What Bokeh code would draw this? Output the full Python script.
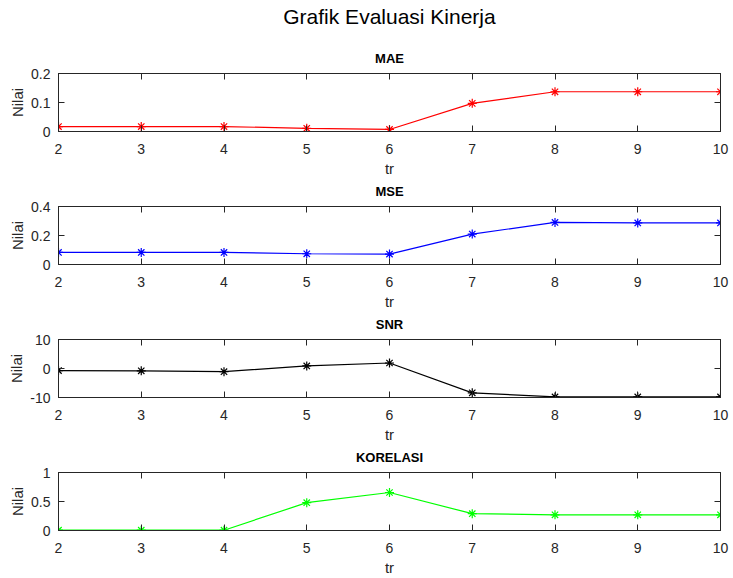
from bokeh.plotting import figure
from bokeh.models import (Range1d, FixedTicker, LinearAxis, NumeralTickFormatter,
                          CustomJSTickFormatter, ColumnDataSource)
from bokeh.layouts import column
from bokeh.embed import file_html
from bokeh.resources import INLINE

# ---- data ----
tr = [2, 3, 4, 5, 6, 7, 8, 9, 10]
mae = [0.017, 0.017, 0.017, 0.011, 0.007, 0.097, 0.137, 0.137, 0.137]
mse = [0.083, 0.083, 0.083, 0.074, 0.072, 0.210, 0.290, 0.287, 0.287]
snr = [-0.7, -0.8, -1.1, 0.9, 1.9, -8.4, -9.8, -9.8, -9.8]
korelasi = [0.005, 0.005, 0.005, 0.48, 0.655, 0.29, 0.27, 0.27, 0.27]

main_title = "Grafik Evaluasi Kinerja"
panel_titles = ["MAE", "MSE", "SNR", "KORELASI"]
series = [mae, mse, snr, korelasi]
colors = ["#ff0000", "#0000ff", "#000000", "#00ff00"]
y_ranges = [(0, 0.2), (0, 0.4), (-10, 10), (0, 1)]
y_ticks = [[0, 0.1, 0.2], [0, 0.2, 0.4], [-10, 0, 10], [0, 0.5, 1]]
x_label = "tr"
y_label = "Nilai"

# ---- layout (top border, frame height, bottom border) ----
specs = [(73, 58, 48), (27, 58, 48), (27, 58, 48), (27, 58, 48)]

FONT = "Liberation Sans"
AX = "#262626"


def blank_axis(ticks, ticks_visible=True):
    ax = LinearAxis(ticker=FixedTicker(ticks=ticks),
                    formatter=CustomJSTickFormatter(code="return ''"))
    ax.major_tick_in = 6 if ticks_visible else 0
    ax.major_tick_out = 0
    ax.minor_tick_in = 0
    ax.minor_tick_out = 0
    ax.major_label_standoff = 0
    ax.major_label_text_font_size = "0px"
    ax.axis_line_color = AX if ticks_visible else None
    ax.major_tick_line_color = AX if ticks_visible else None
    return ax


figs = []
for i in range(4):
    tb, fh, bb = specs[i]
    src = ColumnDataSource(dict(x=tr, y=series[i]))
    p = figure(frame_width=662, frame_height=fh,
               x_range=Range1d(2, 10), y_range=Range1d(*y_ranges[i]),
               output_backend="svg", toolbar_location=None,
               min_border_left=58, min_border_right=12,
               min_border_top=tb, min_border_bottom=bb,
               x_axis_label=x_label, y_axis_label=y_label, title=None)
    p.background_fill_color = "white"
    p.border_fill_color = "white"
    p.outline_line_color = AX
    p.outline_line_width = 1
    p.xgrid.visible = False
    p.ygrid.visible = False

    xa = p.xaxis[0]
    xa.ticker = FixedTicker(ticks=tr)
    ya = p.yaxis[0]
    ya.ticker = FixedTicker(ticks=y_ticks[i])
    ya.formatter = NumeralTickFormatter(format="0.[0]")
    for a in (xa, ya):
        a.major_tick_in = 6
        a.major_tick_out = 0
        a.minor_tick_in = 0
        a.minor_tick_out = 0
        a.axis_line_color = AX
        a.major_tick_line_color = AX
        a.major_label_text_font = FONT
        a.major_label_text_font_size = "14px"
        a.major_label_text_color = AX
        a.axis_label_text_font = FONT
        a.axis_label_text_font_size = "15px"
        a.axis_label_text_font_style = "normal"
        a.axis_label_text_color = AX
    xa.major_label_standoff = 12
    xa.axis_label_standoff = 3
    ya.major_label_standoff = 8
    ya.axis_label_standoff = 2

    # top axis carrying the panel title
    top = blank_axis(tr)
    top.axis_label = panel_titles[i]
    top.axis_label_text_font = FONT
    top.axis_label_text_font_size = "13px"
    top.axis_label_text_font_style = "bold"
    top.axis_label_text_color = "#000000"
    top.axis_label_standoff = 8
    p.add_layout(top, "above")
    p.add_layout(blank_axis(y_ticks[i]), "right")

    if i == 0:
        sup = blank_axis(tr, ticks_visible=False)
        sup.axis_label = main_title
        sup.axis_label_text_font = FONT
        sup.axis_label_text_font_size = "21px"
        sup.axis_label_text_font_style = "normal"
        sup.axis_label_text_color = "#000000"
        sup.axis_label_standoff = 20
        p.add_layout(sup, "above")

    p.line("x", "y", source=src, line_color=colors[i], line_width=1.2)
    p.scatter("x", "y", source=src, marker="asterisk", size=9,
              line_color=colors[i], line_width=1.2)
    figs.append(p)

layout = column(*figs, spacing=0)
open("out.html", "w").write(file_html(layout, INLINE))
